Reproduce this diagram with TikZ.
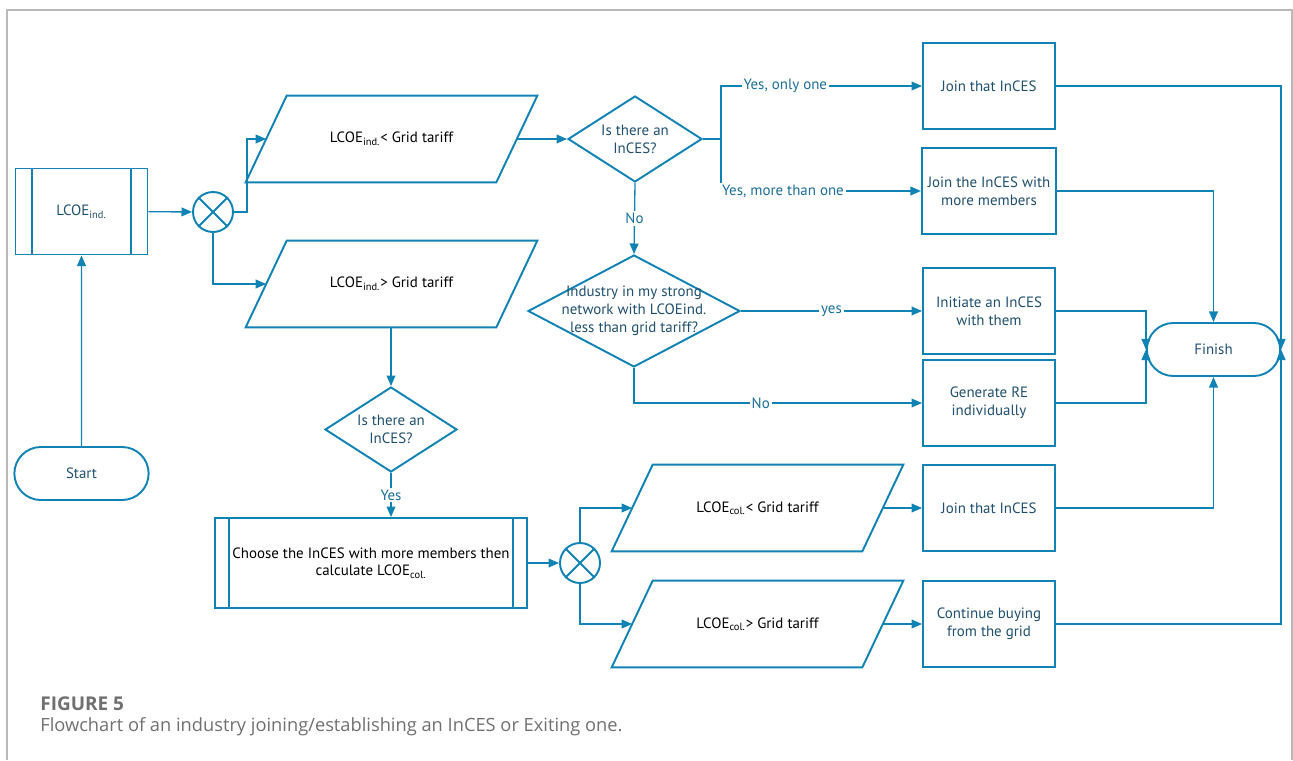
\documentclass[tikz,border=0pt]{standalone}
\usepackage{fontspec}
\setmainfont{PT Sans}
\newfontfamily\capfont{Open Sans}
\usepackage{tikz}
\usetikzlibrary{arrows.meta,shapes.geometric,shapes.misc,calc}

\definecolor{lineblue}{HTML}{1182B4}
\definecolor{textblue}{HTML}{1F4F6E}
\definecolor{labelblue}{HTML}{1A6E98}
\definecolor{capgray}{HTML}{707070}

\begin{document}
\begin{tikzpicture}[x=0.02cm,y=-0.02cm,>={Triangle[length=6pt,width=5pt]}]

\tikzstyle{every node}=[font=\fontsize{8.5}{10.2}\selectfont]
\tikzstyle{outl}=[draw=lineblue,line width=1.1pt]
\tikzstyle{proc}=[outl,rectangle,minimum width=2.64cm,minimum height=1.72cm,align=center,text=textblue]
\tikzstyle{term}=[outl,rounded rectangle,minimum width=2.92cm,minimum height=1.06cm,text=textblue]
\tikzstyle{dec}=[outl,diamond,inner sep=0pt]
\tikzstyle{para}=[rectangle,minimum width=5cm,minimum height=1.72cm,text=black]
\tikzstyle{sum}=[outl,circle,minimum size=0.8cm,inner sep=0pt]
\tikzstyle{conn}=[->,draw=lineblue,line width=0.75pt]
\tikzstyle{lab}=[fill=white,text=labelblue,inner sep=1pt]
\tikzstyle{capt}=[anchor=west,inner sep=0pt,text=capgray]

\useasboundingbox (0,0) rectangle (1293,760);
\draw [gray!55,line width=0.6pt] (7,760) -- (7,10) -- (1292,10) -- (1292,760);

% left part
\node [proc] (ind) at (81.5,211.5) {LCOE\textsubscript{ind.}};
\node [term] (start) at (81.5,473.5) {Start};
\node [sum] (x1) at (213,212) {};
\node [para] (P1) at (391.5,139) {LCOE\textsubscript{ind.}< Grid tariff};
\node [para] (P2) at (391.5,284) {LCOE\textsubscript{ind.}> Grid tariff};

% decisions
\node [dec,minimum width=2.68cm,minimum height=1.72cm,
       label={[align=center,text=textblue]center:Is there an\\InCES?}] (D1) at (635,139) {};
\node [dec,minimum width=4.24cm,minimum height=2.24cm,
       label={[align=center,text=textblue]center:Industry in my strong\\network with LCOEind.\\less than grid tariff?}] (D2) at (634,311) {};
\node [dec,minimum width=2.64cm,minimum height=1.7cm,
       label={[align=center,text=textblue]center:Is there an\\InCES?}] (D3) at (391,429.5) {};

% lower part
\node [proc,text=black,minimum width=6.24cm,minimum height=1.8cm] (choose) at (371,563)
      {Choose the InCES with more members then\\calculate LCOE\textsubscript{col.}};
\node [sum] (x2) at (580,563) {};
\node [para] (P3) at (757.5,508) {LCOE\textsubscript{col.}< Grid tariff};
\node [para] (P4) at (757.5,624) {LCOE\textsubscript{col.}> Grid tariff};

% right column
\node [proc] (B1) at (989,86) {Join that InCES};
\node [proc] (B2) at (989,191) {Join the InCES with\\more members};
\node [proc] (B3) at (989,311) {Initiate an InCES\\with them};
\node [proc] (B4) at (989,403) {Generate RE\\individually};
\node [proc] (B5) at (989,508) {Join that InCES};
\node [proc] (B6) at (989,624) {Continue buying\\from the grid};
\node [term,minimum width=2.9cm] (fin) at (1213.5,349.5) {Finish};

% outlines
\foreach \p in {P1,P2,P3,P4}
  \draw [outl] ($(\p.north west)+(20.5,0)$) -- ($(\p.north east)+(20.5,0)$)
        -- ($(\p.south east)-(20.5,0)$) -- ($(\p.south west)-(20.5,0)$) -- cycle;
\draw [outl] ($(ind.north west)+(17,0)$) -- ($(ind.south west)+(17,0)$)
             ($(ind.north east)-(17,0)$) -- ($(ind.south east)-(17,0)$);
\draw [outl] ($(choose.north west)+(15,0)$) -- ($(choose.south west)+(15,0)$)
             ($(choose.north east)-(15,0)$) -- ($(choose.south east)-(15,0)$);
\draw [outl] (x1.north west) -- (x1.south east) (x1.north east) -- (x1.south west);
\draw [outl] (x2.north west) -- (x2.south east) (x2.north east) -- (x2.south west);

% connectors
\draw [conn] (start) -- (ind);
\draw [conn] (ind) -- (x1);
\draw [conn] (x1.east) -- ++(13,0) |- (P1.west);
\draw [conn] (x1.south) |- (P2.west);
\draw [conn] (P1.east) -- (D1.west);
\draw [conn] (D1.east) -- ++(18,0) |- node [lab,pos=0.66] {Yes, only one} (B1.west);
\draw [conn] (D1.east) -- ++(18,0) |- node [lab,pos=0.655] {Yes, more than one} (B2.west);
\draw [conn] (D1.south) -- node [lab] {No} (D2.north);
\draw [conn] (D2.east) -- node [lab] {yes} (B3.west);
\draw [conn] (D2.south) |- node [lab,pos=0.72] {No} (B4.west);
\draw [conn] (B1.east) -| (fin.east);
\draw [conn] (B6.east) -| (fin.east);
\draw [conn] (B3.east) -| (fin.west);
\draw [conn] (B4.east) -| (fin.west);
\draw [conn] (B2.east) -| (fin.north);
\draw [conn] (B5.east) -| (fin.south);
\draw [conn] (D3.north |- P2.south) -- (D3.north);
\draw [conn] (D3.south) -- node [lab] {Yes} (D3.south |- choose.north);
\draw [conn] (choose.east) -- (x2.west);
\draw [conn] (x2.north) |- (P3.west);
\draw [conn] (x2.south) |- (P4.west);
\draw [conn] (P3.east) -- (B5.west);
\draw [conn] (P4.east) -- (B6.west);

% caption
\node [capt,font=\capfont\fontsize{10.8}{13}\selectfont\bfseries] (fig) at (40,704) {FIGURE 5};
\node [capt,font=\capfont\fontsize{10.4}{12}\selectfont] (cap) at (40,727)
      {Flowchart of an industry joining/establishing an InCES or Exiting one.};

\end{tikzpicture}
\end{document}
